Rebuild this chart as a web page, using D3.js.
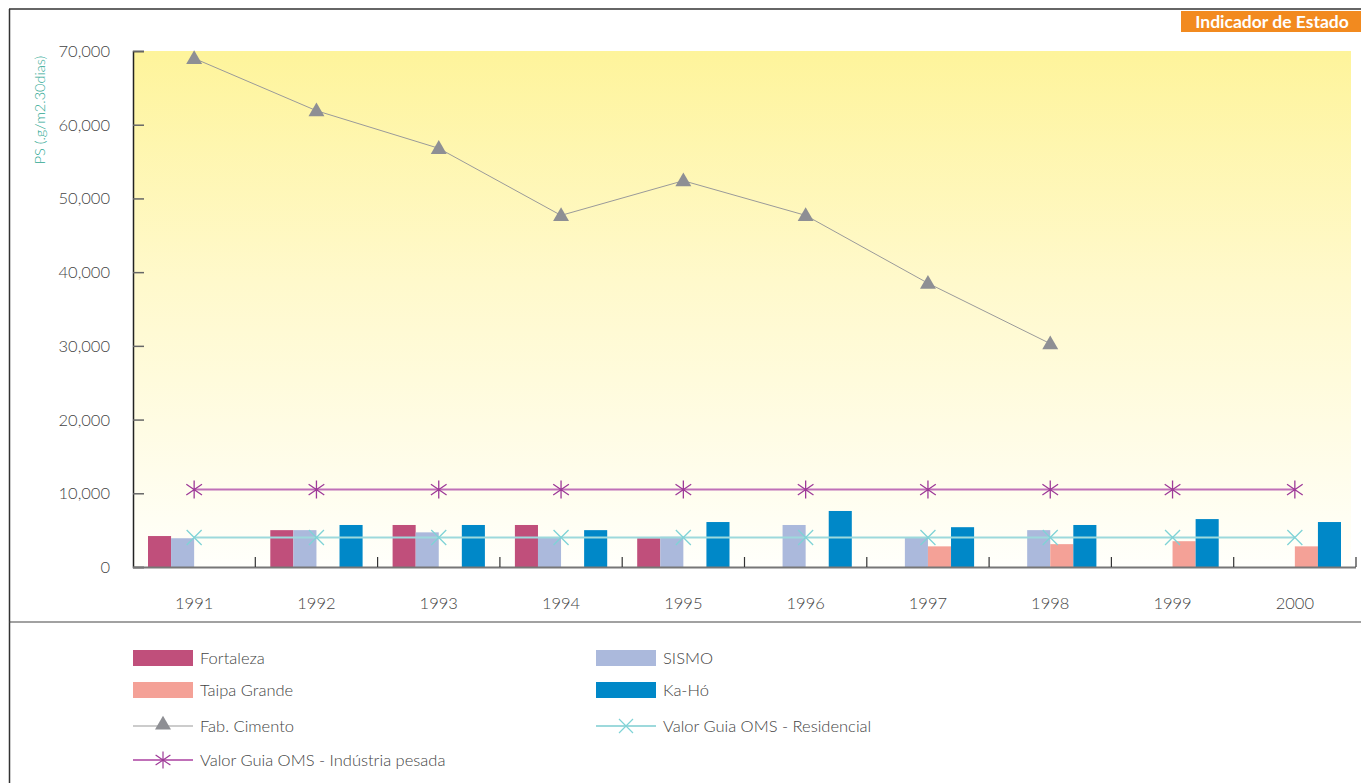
<!DOCTYPE html>
<html>
<head>
<meta charset="utf-8">
<script src="https://cdn.jsdelivr.net/npm/d3@7"></script>
<style>
  html, body { margin: 0; padding: 0; background: #fff; }
  svg { display: block; font-family: Lato, "Open Sans", sans-serif; }
</style>
</head>
<body>
<svg id="chart" width="1361" height="783"></svg>
<script>
// Dust deposition (PS) by monitoring station, 1991-2000
const years = ["1991", "1992", "1993", "1994", "1995", "1996", "1997", "1998", "1999", "2000"];
const fortaleza   = [4200, 5000, 5700, 5700, 3900, null, null, null, null, null];
const sismo       = [3900, 5000, 4700, 4000, 4100, 5700, 4000, 5000, null, null];
const taipaGrande = [null, null, null, null, null, null, 2800, 3100, 3500, 2800];
const kaHo        = [null, 5700, 5700, 5000, 6100, 7600, 5400, 5700, 6500, 6100];
const fabCimento  = [69000, 61900, 56800, 47700, 52400, 47700, 38500, 30300, null, null];
const omsResidencial = [4000, 4000, 4000, 4000, 4000, 4000, 4000, 4000, 4000, 4000];
const omsIndustria   = [10500, 10500, 10500, 10500, 10500, 10500, 10500, 10500, 10500, 10500];
const yTicks = [0, 10000, 20000, 30000, 40000, 50000, 60000, 70000];

const barSeries = [
  { name: "Fortaleza",    values: fortaleza,   color: "#c04f7b" },
  { name: "SISMO",        values: sismo,       color: "#abb9dc" },
  { name: "Taipa Grande", values: taipaGrande, color: "#f4a197" },
  { name: "Ka-Hó",        values: kaHo,        color: "#0088c8" }
];

const svg = d3.select("#chart");
const plot = { left: 133, right: 1356, top: 51, bottom: 567 };

const x = d3.scaleBand().domain(years).range([plot.left, plot.right]).padding(0);
const xs = d3.scaleBand().domain(barSeries.map(s => s.name))
  .range([15, x.bandwidth() - 15]).padding(0);
const y = d3.scaleLinear().domain([0, 70000]).range([plot.bottom, plot.top]);

// Frame
svg.append("line").attr("x1", 9).attr("x2", 1361).attr("y1", 9).attr("y2", 9)
  .attr("stroke", "#333").attr("stroke-width", 1.5);
svg.append("line").attr("x1", 9.5).attr("x2", 9.5).attr("y1", 9).attr("y2", 783)
  .attr("stroke", "#333").attr("stroke-width", 1.5);
svg.append("line").attr("x1", 9).attr("x2", 1361).attr("y1", 622).attr("y2", 622)
  .attr("stroke", "#444").attr("stroke-width", 1.2);

// Header tag
svg.append("rect").attr("x", 1181).attr("y", 11).attr("width", 180).attr("height", 21)
  .attr("fill", "#f28a1f");
svg.append("text").attr("x", 1272).attr("y", 27.5).attr("text-anchor", "middle")
  .attr("fill", "#fff").attr("font-weight", 700).attr("font-size", 17.5)
  .text("Indicador de Estado");

// Plot background gradient
const defs = svg.append("defs");
const grad = defs.append("linearGradient").attr("id", "bg").attr("x1", 0).attr("y1", 0).attr("x2", 0).attr("y2", 1);
grad.append("stop").attr("offset", "0%").attr("stop-color", "#fef49b");
grad.append("stop").attr("offset", "45%").attr("stop-color", "#fff9cc");
grad.append("stop").attr("offset", "100%").attr("stop-color", "#fffffb");
svg.append("rect").attr("x", plot.left).attr("y", plot.top)
  .attr("width", 1351 - plot.left).attr("height", plot.bottom - plot.top)
  .attr("fill", "url(#bg)");

// Y axis
const yAxis = svg.append("g").attr("transform", `translate(${plot.left},0)`)
  .call(d3.axisRight(y).tickValues(yTicks).tickSize(11).tickFormat(() => ""));
yAxis.select(".domain").attr("stroke", "#222").attr("stroke-width", 1.5);
yAxis.selectAll(".tick line").attr("stroke", "#666").attr("stroke-width", 1.5);
svg.append("g").selectAll("text").data(yTicks).join("text")
  .attr("x", 110).attr("y", d => y(d) + 6).attr("text-anchor", "end")
  .attr("font-size", 16.5).attr("font-weight", 300).attr("fill", "#444")
  .text(d => d3.format(",")(d));

svg.append("text")
  .attr("transform", "translate(45,110) rotate(-90)")
  .attr("text-anchor", "middle").attr("font-size", 14.5).attr("font-weight", 300)
  .attr("fill", "#2ea893").text("PS (.g/m2.30dias)");

// Bars
barSeries.forEach(s => {
  svg.append("g").selectAll("rect")
    .data(years.map((yr, i) => ({ yr, v: s.values[i] })).filter(d => d.v != null))
    .join("rect")
    .attr("x", d => x(d.yr) + xs(s.name))
    .attr("width", xs.bandwidth())
    .attr("y", d => y(d.v))
    .attr("height", d => y(0) - y(d.v))
    .attr("fill", s.color);
});

// X axis
svg.append("line").attr("x1", plot.left).attr("x2", plot.right)
  .attr("y1", plot.bottom + 0.5).attr("y2", plot.bottom + 0.5)
  .attr("stroke", "#777").attr("stroke-width", 2);
svg.append("g").selectAll("line").data(years.slice(1).concat(["end"])).join("line")
  .attr("x1", d => d === "end" ? plot.right : x(d))
  .attr("x2", d => d === "end" ? plot.right : x(d))
  .attr("y1", plot.bottom - 10).attr("y2", plot.bottom)
  .attr("stroke", "#333").attr("stroke-width", 1.2);
svg.append("g").selectAll("text").data(years).join("text")
  .attr("x", d => x(d) + x.bandwidth() / 2).attr("y", 609)
  .attr("text-anchor", "middle").attr("font-size", 16.5).attr("font-weight", 300)
  .attr("fill", "#444").text(d => d);

// Marker paths
const tri = d3.symbol().type(d3.symbolTriangle).size(110);
function starPath(r) {
  return `M0,${-r}L0,${r}M${-r * 0.87},${-r * 0.6}L${r * 0.87},${r * 0.6}M${-r * 0.87},${r * 0.6}L${r * 0.87},${-r * 0.6}`;
}
function crossPath(r) {
  return `M${-r},${-r}L${r},${r}M${-r},${r}L${r},${-r}`;
}
const cx = d => x(d.yr) + x.bandwidth() / 2;

function lineSeries(values, lineColor, lineWidth, markerFn) {
  const pts = years.map((yr, i) => ({ yr, v: values[i] })).filter(d => d.v != null);
  svg.append("path").datum(pts)
    .attr("d", d3.line().x(cx).y(d => y(d.v)))
    .attr("fill", "none").attr("stroke", lineColor).attr("stroke-width", lineWidth);
  const g = svg.append("g");
  pts.forEach(p => markerFn(g.append("g").attr("transform", `translate(${cx(p)},${y(p.v)})`)));
}

lineSeries(omsResidencial, "#9dd9dc", 2, g =>
  g.append("path").attr("d", crossPath(7.5)).attr("stroke", "#7fd3d6").attr("stroke-width", 1.3).attr("fill", "none"));
lineSeries(omsIndustria, "#c070b8", 2, g =>
  g.append("path").attr("d", starPath(9)).attr("stroke", "#9e3a98").attr("stroke-width", 1.3).attr("fill", "none"));
lineSeries(fabCimento, "#9a9a9a", 1, g =>
  g.append("path").attr("d", tri()).attr("transform", "translate(0,1)").attr("fill", "#8e8f94"));

// Legend
const legendItems = [
  { name: "Fortaleza",    type: "bar",  color: "#c04f7b", x: 133, y: 658 },
  { name: "SISMO",        type: "bar",  color: "#abb9dc", x: 596, y: 658 },
  { name: "Taipa Grande", type: "bar",  color: "#f4a197", x: 133, y: 690 },
  { name: "Ka-Hó",        type: "bar",  color: "#0088c8", x: 596, y: 690 },
  { name: "Fab. Cimento", type: "tri",  color: "#9a9a9a", x: 133, y: 726 },
  { name: "Valor Guia OMS - Residencial", type: "cross", color: "#9dd9dc", x: 596, y: 726 },
  { name: "Valor Guia OMS - Indústria pesada", type: "star", color: "#c070b8", x: 133, y: 760 }
];
const lg = svg.append("g");
legendItems.forEach(it => {
  const g = lg.append("g").attr("transform", `translate(${it.x},${it.y})`);
  if (it.type === "bar") {
    g.append("rect").attr("x", 0).attr("y", -8).attr("width", 60).attr("height", 16).attr("fill", it.color);
  } else {
    g.append("line").attr("x1", 0).attr("x2", 60).attr("y1", 0).attr("y2", 0)
      .attr("stroke", it.color).attr("stroke-width", it.type === "tri" ? 1.2 : 1.8);
    const m = g.append("g").attr("transform", "translate(30,0)");
    if (it.type === "tri") m.append("path").attr("d", tri()).attr("transform", "translate(0,-1)").attr("fill", "#8e8f94");
    if (it.type === "cross") m.append("path").attr("d", crossPath(7)).attr("stroke", "#7fd3d6").attr("stroke-width", 1.2).attr("fill", "none");
    if (it.type === "star") m.append("path").attr("d", starPath(8.5)).attr("stroke", "#9e3a98").attr("stroke-width", 1.2).attr("fill", "none");
  }
  g.append("text").attr("x", 67).attr("y", 6).attr("font-size", 16.5).attr("font-weight", 300)
    .attr("fill", "#444").text(it.name);
});
</script>
</body>
</html>
